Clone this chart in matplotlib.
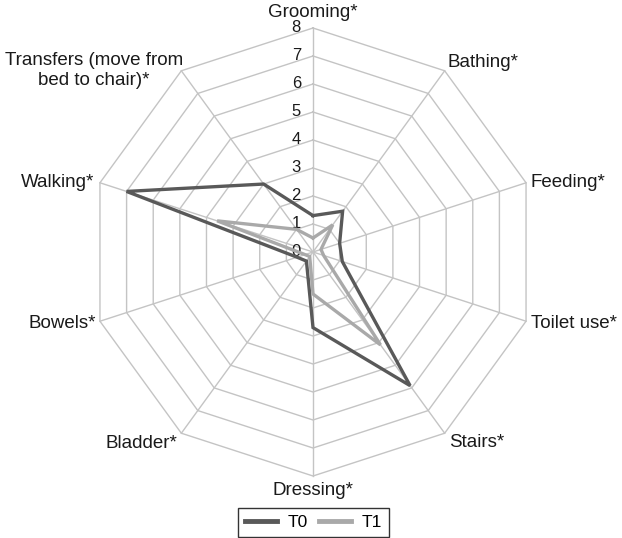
import numpy as np
import matplotlib.pyplot as plt

plt.rcParams['font.family'] = ['Liberation Sans', 'DejaVu Sans']

categories = ['Grooming*', 'Bathing*', 'Feeding*', 'Toilet use*', 'Stairs*',
              'Dressing*', 'Bladder*', 'Bowels*', 'Walking*',
              'Transfers (move from\nbed to chair)*']
t0_values = [1.3, 1.8, 1.0, 1.1, 5.9, 2.7, 0.4, 0.6, 7.0, 3.0]
t1_values = [0.5, 1.2, 0.3, 0.4, 4.1, 1.5, 0.2, 0.3, 3.6, 1.0]
ring_ticks = [0, 1, 2, 3, 4, 5, 6, 7, 8]
series_names = ['T0', 'T1']

# label placement: (ha, va, dx, dy) in pixels
label_pos = [('center', 'bottom', 0, 7), ('left', 'bottom', 3, 0),
             ('left', 'center', 4, 0), ('left', 'center', 5, -2),
             ('left', 'top', 4, -1), ('center', 'top', 0, -6),
             ('right', 'top', -4, -2), ('right', 'center', -4, -2),
             ('right', 'center', -6, 0), ('right', 'center', 2, 0)]

grid_color = '#c4c4c4'
colors = ['#595959', '#a9a9a9']

n = len(categories)
theta = np.linspace(0, 2 * np.pi, n, endpoint=False)
theta_closed = np.append(theta, theta[0])

fig = plt.figure(figsize=(6.22, 5.38), dpi=100)
ax = fig.add_axes([89 / 622, 62 / 538, 448 / 622, 448 / 538], projection='polar')
ax.set_theta_offset(np.pi / 2)
ax.set_theta_direction(-1)
ax.set_ylim(0, 8)
ax.axis('off')

# decagon grid
for r in ring_ticks[1:]:
    ax.plot(theta_closed, [r] * (n + 1), color=grid_color, lw=1, clip_on=False, zorder=1)
for t in theta:
    ax.plot([t, t], [0, ring_ticks[-1]], color=grid_color, lw=1, clip_on=False, zorder=1)

# radial tick labels along the top spoke
for r in ring_ticks:
    ax.annotate(str(r), xy=(0, r), xytext=(-12, 0), textcoords='offset pixels',
                ha='right', va='center', fontsize=12, color='#1a1a1a', zorder=3)

for t, lab, (ha, va, dx, dy) in zip(theta, categories, label_pos):
    ax.annotate(lab, xy=(t, ring_ticks[-1]), xytext=(dx, dy), textcoords='offset pixels',
                ha=ha, va=va, multialignment='center', fontsize=13.5, color='#1a1a1a')

lines = []
for vals, col, name in zip([t0_values, t1_values], colors, series_names):
    v = np.append(vals, vals[0])
    ln, = ax.plot(theta_closed, v, color=col, lw=2.4, label=name, zorder=4,
                  solid_joinstyle='miter')
    lines.append(ln)

leg = fig.legend(handles=lines, loc='center', bbox_to_anchor=(313.5 / 622, 1 - 522.5 / 538),
                 ncol=2, fontsize=12.5, frameon=True, fancybox=False, edgecolor='black',
                 handlelength=1.85, handletextpad=0.63, columnspacing=0.6,
                 borderpad=0.4, borderaxespad=0)
leg.get_frame().set_linewidth(1)
for h in leg.legend_handles:
    h.set_linewidth(3.5)

fig.savefig('out.png', dpi=100)
